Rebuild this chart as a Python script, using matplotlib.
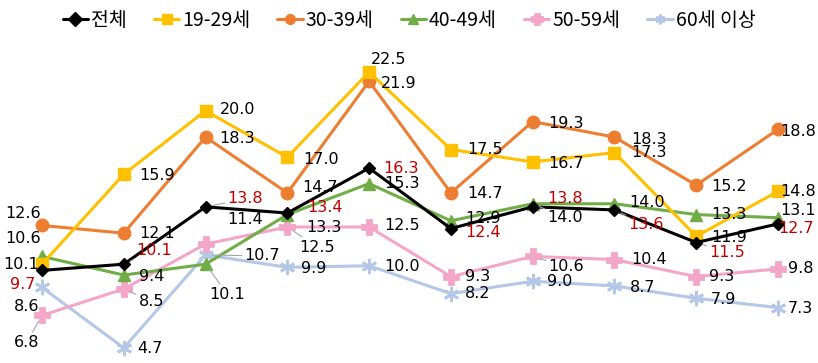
import matplotlib
matplotlib.use("Agg")
import matplotlib.pyplot as plt
import numpy as np

plt.rcParams['font.family'] = ['Noto Sans CJK KR', 'DejaVu Sans']

categories = list(range(10))
series_names = ['전체', '19-29세', '30-39세', '40-49세', '50-59세', '60세 이상']
total = [9.7, 10.1, 13.8, 13.4, 16.3, 12.4, 13.8, 13.6, 11.5, 12.7]
age_19_29 = [10.1, 15.9, 20.0, 17.0, 22.5, 17.5, 16.7, 17.3, 11.9, 14.8]
age_30_39 = [12.6, 12.1, 18.3, 14.7, 21.9, 14.7, 19.3, 18.3, 15.2, 18.8]
age_40_49 = [10.6, 9.4, 10.1, 13.3, 15.3, 12.9, 14.0, 14.0, 13.3, 13.1]
age_50_59 = [6.8, 8.5, 11.4, 12.5, 12.5, 9.3, 10.6, 10.4, 9.3, 9.8]
age_60_up = [8.6, 4.7, 10.7, 9.9, 10.0, 8.2, 9.0, 8.7, 7.9, 7.3]

# styling
colors = ['#000000', '#FFC000', '#ED7D31', '#70AD47', '#F4A6C8', '#B4C7E7']
markers = ['D', 's', 'o', '^', 'P', (6, 2, 0)]
msizes = [6, 9, 9, 9, 10, 11]
label_colors = ['#C00000', '#000000', '#000000', '#000000', '#000000', '#000000']
# label offsets in pixels (dx to left edge, dy upward)
offsets = [
    [(-32, -14), (12, 14), (22, 8), (20, 6), (14, 0), (14, -4), (15, 8), (14, -15), (13, -10), (0, -5)],
    [(-39, 0), (15, -1), (14, 1), (16, -2), (2, 12), (16, 0), (16, -2), (17, 0), (15, -1), (2, 0)],
    [(-37, 12), (15, 0), (14, -1), (15, 5), (12, -2), (16, -1), (16, -2), (17, -2), (15, -1), (2, -2)],
    [(-37, 18), (15, -1), (4, -30), (19, -13), (15, 0), (14, 2), (15, -14), (15, 1), (15, 0), (2, 7)],
    [(-28, -27), (15, -12), (22, 25), (12, -20), (15, 1), (14, 0), (16, -10), (17, 0), (13, 0), (10, 0)],
    [(-28, -19), (13, -1), (39, -1), (14, -1), (15, -1), (14, 0), (14, 0), (15, -2), (15, -1), (10, -1)],
]
leaders = [
    [False, True, True, False, False, False, False, True, True, False],
    [False] * 10,
    [False] * 10,
    [False, False, True, False, False, False, True, False, False, False],
    [True, True, False, True, False, False, True, False, False, False],
    [False, False, True, False, False, False, False, False, False, False],
]

all_series = [total, age_19_29, age_30_39, age_40_49, age_50_59, age_60_up]

W, H = 818, 363
fig = plt.figure(figsize=(W / 100, H / 100), dpi=100)
ax = fig.add_axes([0, 0, 1, 1])
ax.set_xlim(-42 / 81.8, 9 + 40 / 81.8)
ax.set_ylim(22.5 - 291 / 15.5, 22.5 + 72 / 15.5)
ax.axis('off')

order = [5, 4, 3, 2, 1, 0]
handles = {}
for i in order:
    vals = all_series[i]
    mew = 2.0 if i in (4, 5) else 1
    (ln,) = ax.plot(categories, vals, color=colors[i], lw=2.2, marker=markers[i],
                    markersize=msizes[i], markeredgewidth=mew,
                    markeredgecolor=colors[i], markerfacecolor=colors[i],
                    label=series_names[i], zorder=4 if i == 0 else 3,
                    solid_capstyle='round')
    handles[i] = ln
    for j, v in enumerate(vals):
        dx, dy = offsets[i][j]
        kw = {}
        if leaders[i][j]:
            kw['arrowprops'] = dict(arrowstyle='-', color='#A6A6A6', lw=0.8,
                                    shrinkA=0, shrinkB=5)
        ax.annotate(f'{v:.1f}', (categories[j], v), xytext=(dx, dy),
                    textcoords='offset pixels', ha='left', va='center',
                    fontsize=11.5, color=label_colors[i],
                    family=['DejaVu Sans'], zorder=6, **kw)

leg = fig.legend([handles[i] for i in range(6)], series_names,
                 loc='center', bbox_to_anchor=(0.5, 1 - 20 / H), ncol=6,
                 frameon=False, fontsize=14, handlelength=1.3,
                 handletextpad=0.15, columnspacing=1.4, borderaxespad=0)
for lh in leg.legend_handles:
    lh.set_markersize(7)

fig.savefig('out.png', dpi=100)
